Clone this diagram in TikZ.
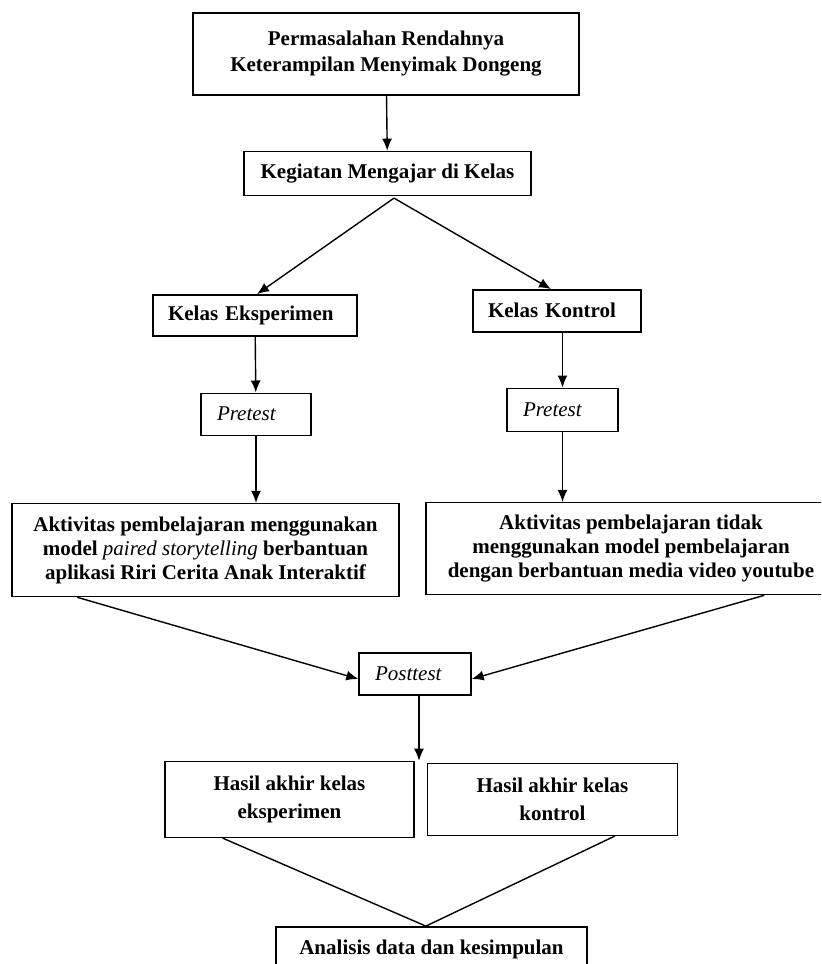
\documentclass[tikz,border=0pt]{standalone}
\usepackage{fontspec}
\setmainfont{Liberation Serif}
\usetikzlibrary{arrows.meta,positioning,calc}
\tikzset{
    block/.style={
        draw,
        rectangle,
        line width=0.7pt,
        inner sep=0pt,
        align=center,
        font=\fontsize{10.5}{12}\selectfont\bfseries
    },
    leftblock/.style={
        block,
        align=left,
        inner xsep=7.5pt
    },
    italic/.style={
        font=\fontsize{10.5}{12}\selectfont\itshape
    },
    connector/.style={
        line width=0.7pt
    },
}

\begin{document}
\begin{tikzpicture}[x=0.5pt, y=-0.5pt, >={Latex[length=6pt,width=5pt]}]
    \useasboundingbox (0,0) rectangle (821,964);
    \clip (0,0) rectangle (821,964);

    % blocks
    \node[block, minimum width=193pt, minimum height=41pt] (masalah) at (386,54) {Permasalahan Rendahnya\\[1pt] Keterampilan Menyimak Dongeng};
    \node[block, minimum width=143.5pt, minimum height=22pt, below=27.5pt of masalah, xshift=0.75pt] (kegiatan) {Kegiatan Mengajar di Kelas};
    \node[leftblock, text width=87pt, minimum height=20.5pt, below=49pt of kegiatan, xshift=-66.25pt] (eksp) {Kelas Eksperimen};
    \node[leftblock, text width=69pt, minimum height=21pt, below=46.5pt of kegiatan, xshift=84.75pt] (kontrol) {Kelas Kontrol};
    \node[leftblock, italic, inner xsep=8pt, text width=39pt, minimum height=21pt, below=28pt of eksp, xshift=0.5pt] (preE) {Pretest};
    \node[leftblock, italic, inner xsep=8pt, text width=39.5pt, minimum height=21.5pt, below=27.5pt of kontrol, xshift=2.75pt] (preK) {Pretest};
    \node[block, minimum width=193.5pt, minimum height=46.5pt, below=33.5pt of preE, xshift=-25.25pt] (aktE) {Aktivitas pembelajaran menggunakan\\ model {\mdseries\itshape paired storytelling} berbantuan\\ aplikasi Riri Cerita Anak Interaktif};
    \node[block, minimum width=205pt, minimum height=46pt, below=35pt of preK, xshift=34.25pt] (aktK) {Aktivitas pembelajaran tidak\\ menggunakan model pembelajaran\\ dengan berbantuan media video youtube};
    \node[leftblock, italic, inner xsep=8pt, text width=40pt, minimum height=21pt, below=27.5pt of aktE, xshift=104.75pt] (post) {Posttest};
    \node[block, minimum width=124.5pt, minimum height=38pt, below=32.5pt of post, xshift=-62.75pt] (hasE) {Hasil akhir kelas\\[2pt] eksperimen};
    \node[block, minimum width=125pt, minimum height=36pt, right=6pt of hasE] (hasK) {Hasil akhir kelas\\[2pt] kontrol};
    \node[block, minimum width=155.5pt, minimum height=30pt, text height=8pt, text depth=10pt, below=44pt of hasE, xshift=71pt] (analisis) {Analisis data dan kesimpulan};

    % coordinates
    \coordinate (split) at ([xshift=3.25pt, yshift=-1pt]kegiatan.south);
    \coordinate (postout) at ([xshift=2pt]post.south);
    \coordinate (joinA) at ($(analisis.north west)!0.482!(analisis.north east)$);

    % lines
    \draw[connector, ->] (masalah) -- (kegiatan);
    \draw[connector, ->] (split) -- ([xshift=1pt]eksp.north);
    \draw[connector, ->] (split) -- ([xshift=-3pt]kontrol.north);
    \draw[connector, ->] (eksp) -- (preE);
    \draw[connector, ->] (kontrol.south -| preK) -- (preK);
    \draw[connector, ->] (preE) -- (preE |- aktE.north);
    \draw[connector, ->] (preK) -- (preK |- aktK.north);
    \draw[connector, ->] ($(aktE.south west)!0.17!(aktE.south east)$) -- ([yshift=-2.5pt]post.west);
    \draw[connector, ->] ($(aktK.south west)!0.824!(aktK.south east)$) -- ([yshift=-2.5pt]post.east);
    \draw[connector, ->] (postout) -- (postout |- hasE.north);
    \draw[connector] ($(hasE.south west)!0.233!(hasE.south east)$) -- (joinA) -- ($(hasK.south west)!0.748!(hasK.south east)$);
\end{tikzpicture}
\end{document}
